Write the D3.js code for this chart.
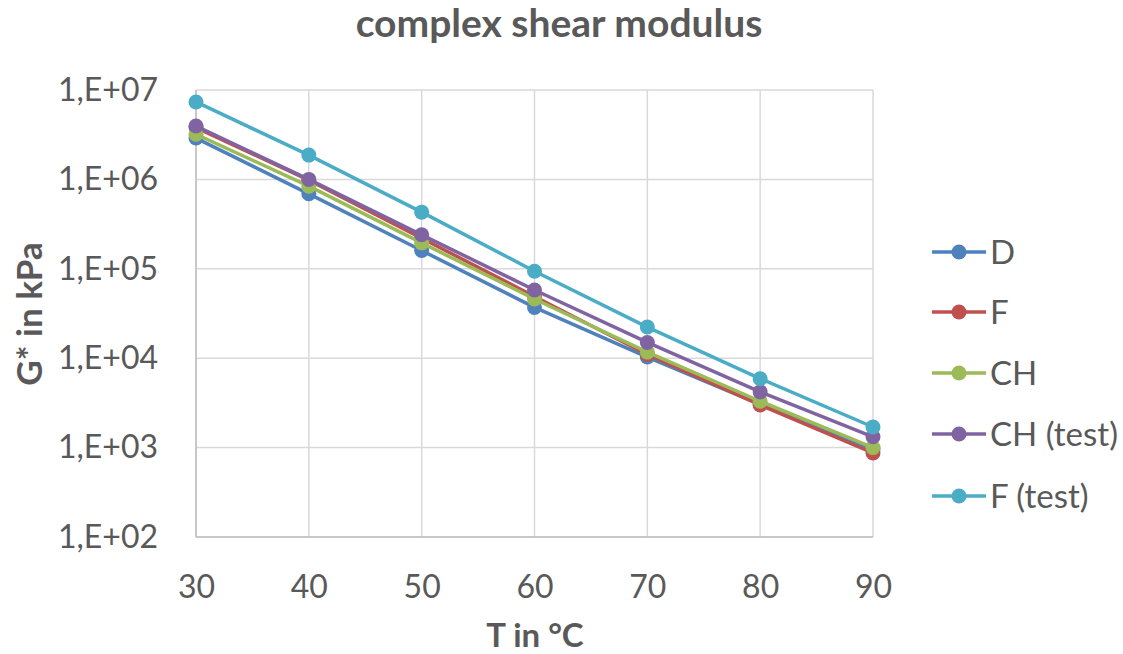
<!DOCTYPE html>
<html><head><meta charset="utf-8">
<script src="https://cdn.jsdelivr.net/npm/d3@7"></script>
<style>body{margin:0;background:#fff}svg{display:block}text{font-family:Lato,"Open Sans",sans-serif;fill:#595959}</style>
</head><body><svg width="1123" height="654"></svg>
<script>
const temps = [30, 40, 50, 60, 70, 80, 90];
const seriesNames = ["D", "F", "CH", "CH (test)", "F (test)"];
const D      = [2.9e6, 6.9e5, 1.6e5, 3.7e4, 1.03e4, 3.05e3, 950];
const F      = [3.8e6, 9.8e5, 2.2e5, 4.9e4, 1.1e4, 3.0e3, 870];
const CH     = [3.2e6, 8.4e5, 1.95e5, 4.6e4, 1.17e4, 3.3e3, 1000];
const CHtest = [3.96e6, 1.0e6, 2.4e5, 5.8e4, 1.5e4, 4.2e3, 1320];
const Ftest  = [7.35e6, 1.87e6, 4.3e5, 9.4e4, 2.23e4, 5.9e3, 1700];
const seriesValues = [D, F, CH, CHtest, Ftest];
const colors = ["#4F81BD", "#C0504D", "#9BBB59", "#8064A2", "#4BACC6"];
const yTicks = [1e2, 1e3, 1e4, 1e5, 1e6, 1e7];
const yTickLabels = ["1,E+02", "1,E+03", "1,E+04", "1,E+05", "1,E+06", "1,E+07"];

const svg = d3.select("svg");
const L = 196, R = 873, T = 90, B = 537;
const x = d3.scaleLinear().domain([30, 90]).range([L, R]);
const y = d3.scaleLog().domain([1e2, 1e7]).range([B, T]);

// gridlines
svg.append("g").selectAll("line").data(yTicks).join("line")
  .attr("x1", L).attr("x2", R).attr("y1", d => y(d)).attr("y2", d => y(d))
  .attr("stroke", "#d9d9d9").attr("stroke-width", 1.5);
svg.append("g").selectAll("line").data(temps).join("line")
  .attr("y1", T).attr("y2", B).attr("x1", d => x(d)).attr("x2", d => x(d))
  .attr("stroke", "#d9d9d9").attr("stroke-width", 1.5);
// axis lines
svg.append("line").attr("x1", L).attr("x2", R).attr("y1", B).attr("y2", B).attr("stroke", "#bfbfbf").attr("stroke-width", 1.5);
svg.append("line").attr("x1", L).attr("x2", L).attr("y1", T).attr("y2", B).attr("stroke", "#bfbfbf").attr("stroke-width", 1.5);

// axes tick labels via d3 axes
const yAxis = d3.axisLeft(y).tickValues(yTicks).tickFormat((d, i) => yTickLabels[i]).tickSize(0).tickPadding(38);
const gy = svg.append("g").attr("transform", `translate(${L},0)`).call(yAxis);
gy.select(".domain").remove();
gy.selectAll("text").style("font-size", "32px").attr("fill", "#595959").style("font-family", "Lato,'Open Sans',sans-serif");

const xAxis = d3.axisBottom(x).tickValues(temps).tickFormat(d3.format("d")).tickSize(0).tickPadding(38);
const gx = svg.append("g").attr("transform", `translate(0,${B})`).call(xAxis);
gx.select(".domain").remove();
gx.selectAll("text").style("font-size", "32px").attr("fill", "#595959").style("font-family", "Lato,'Open Sans',sans-serif");

// series
const line = d3.line().x((d, i) => x(temps[i])).y(d => y(d));
seriesValues.forEach((vals, k) => {
  const g = svg.append("g");
  g.append("path").attr("d", line(vals)).attr("fill", "none")
    .attr("stroke", colors[k]).attr("stroke-width", 3.5).attr("stroke-linejoin", "round");
  g.selectAll("circle").data(vals).join("circle")
    .attr("cx", (d, i) => x(temps[i])).attr("cy", d => y(d)).attr("r", 7.5)
    .attr("fill", colors[k]);
});

// title
svg.append("text").attr("x", 559).attr("y", 37).attr("text-anchor", "middle")
  .style("font-size", "39px").style("font-weight", "bold").text("complex shear modulus");
// axis titles
svg.append("text").attr("x", 535).attr("y", 647).attr("text-anchor", "middle")
  .style("font-size", "33px").style("font-weight", "bold").text("T in °C");
svg.append("text").attr("transform", "translate(42,314) rotate(-90)").attr("text-anchor", "middle")
  .style("font-size", "35px").style("font-weight", "bold").text("G* in kPa");

// legend
const legY = [252, 312, 373, 434, 496];
seriesNames.forEach((name, k) => {
  const g = svg.append("g").attr("transform", `translate(0,${legY[k]})`);
  g.append("line").attr("x1", 932).attr("x2", 986).attr("y1", 0).attr("y2", 0)
    .attr("stroke", colors[k]).attr("stroke-width", 3.5);
  g.append("circle").attr("cx", 959).attr("cy", 0).attr("r", 7.5).attr("fill", colors[k]);
  g.append("text").attr("x", 990).attr("y", 12).style("font-size", "33px").text(name);
});
</script></body></html>
